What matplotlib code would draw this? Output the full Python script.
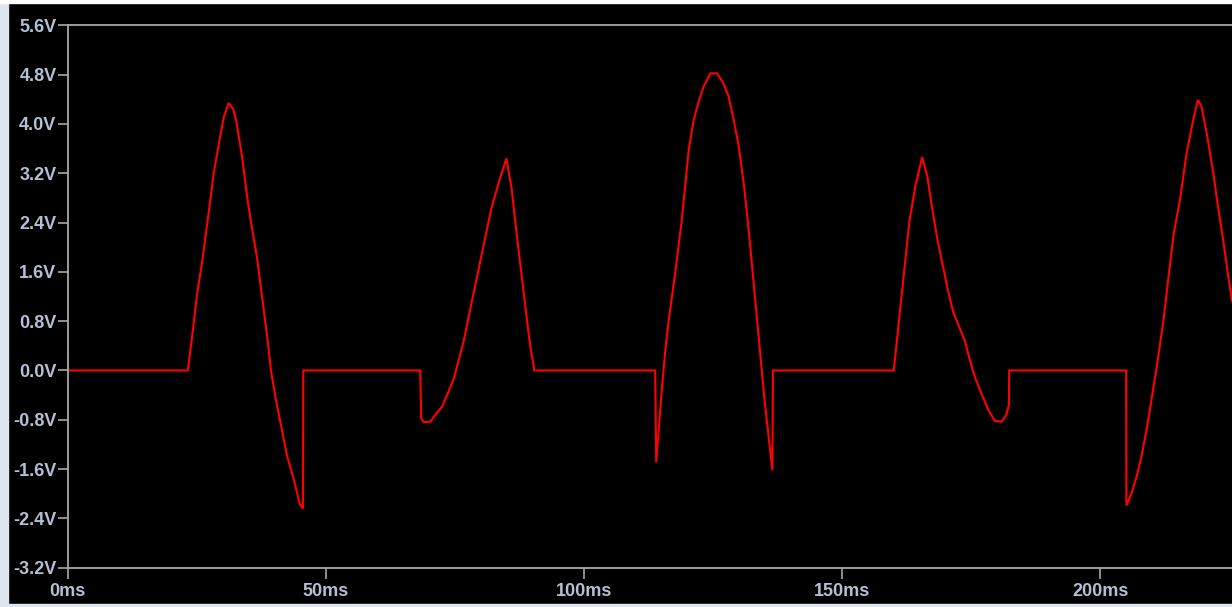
import matplotlib.pyplot as plt
import matplotlib.patches as patches

plt.rcParams['axes.unicode_minus'] = False
plt.rcParams['font.family'] = ['Liberation Sans', 'DejaVu Sans']

# waveform (time in ms, voltage in V)
time_ms = [0.0, 0.05, 23.3, 24.1, 25.1, 26.1, 27.4, 28.3, 29.3, 30.3, 31.2, 32.1, 32.7,
           33.8, 34.8, 35.7, 36.7, 37.7, 38.7, 39.4, 40.3, 41.2, 42.5, 43.8, 45.0, 45.6, 45.65,
           68.3, 68.5, 69.0, 70.3, 71.2, 72.5, 73.8, 74.8, 75.7, 76.7, 77.5, 79.0, 80.5,
           82.0, 83.5, 85.0, 86.0, 87.0, 88.0, 89.0, 89.6, 90.4,
           113.8, 114.0, 114.5, 115.1, 115.8, 116.4, 117.7, 118.9, 120.3, 121.2, 122.2,
           123.2, 124.5, 125.8, 127.0, 128.0, 129.0, 129.9, 131.0, 132.0, 133.0, 134.0,
           135.0, 136.5, 136.6,
           160.0, 161.0, 162.0, 163.0, 164.2, 165.5, 166.5, 167.5, 168.5, 169.5, 170.5,
           171.5, 172.7, 173.8, 174.8, 175.8, 177.1, 178.3, 179.6, 180.9, 181.8, 182.3, 182.35,
           205.0, 205.05, 206.1, 207.1, 208.0, 209.0, 209.6, 211.0, 212.2, 213.2, 214.2,
           215.5, 216.7, 218.0, 218.9, 219.6, 220.6, 221.9, 222.8, 223.8, 224.8, 225.5]
volts = [0.47, 0.0, 0.0, 0.53, 1.24, 1.78, 2.6, 3.19, 3.68, 4.12, 4.34, 4.24, 4.04,
         3.47, 2.81, 2.32, 1.83, 1.18, 0.53, 0.0, -0.45, -0.83, -1.38, -1.76, -2.17, -2.24, 0.0,
         0.0, -0.78, -0.84, -0.83, -0.72, -0.59, -0.34, -0.13, 0.15, 0.47, 0.8, 1.4, 2.0,
         2.6, 3.05, 3.44, 2.95, 2.2, 1.5, 0.8, 0.4, 0.0,
         0.0, -1.49, -0.94, -0.29, 0.36, 0.8, 1.6, 2.4, 3.58, 4.04, 4.36,
         4.61, 4.82, 4.82, 4.66, 4.45, 4.07, 3.68, 3.0, 2.2, 1.3, 0.4,
         -0.5, -1.62, 0.0,
         0.0, 0.8, 1.6, 2.4, 3.0, 3.46, 3.15, 2.6, 2.1, 1.7, 1.3,
         0.95, 0.7, 0.47, 0.15, -0.13, -0.4, -0.64, -0.82, -0.83, -0.72, -0.56, 0.0,
         0.0, -2.19, -1.98, -1.70, -1.38, -0.94, -0.64, 0.1, 0.8, 1.51, 2.21,
         2.81, 3.52, 4.07, 4.39, 4.28, 3.85, 3.19, 2.65, 2.11, 1.51, 1.13]

y_ticks = [-3.2, -2.4, -1.6, -0.8, 0.0, 0.8, 1.6, 2.4, 3.2, 4.0, 4.8, 5.6]
x_ticks = [0, 50, 100, 150, 200]

fig = plt.figure(figsize=(12.32, 6.07), dpi=100, facecolor='black')
# light window borders
fig.patches.append(patches.Rectangle((0, 0), 8 / 1232, 1, transform=fig.transFigure,
                                     color='#dfe6ef', zorder=0))
fig.patches.append(patches.Rectangle((0, 0), 1, 3 / 607, transform=fig.transFigure,
                                     color='#dfe6ef', zorder=0))
fig.patches.append(patches.Rectangle((0, 1 - 3 / 607), 1, 3 / 607, transform=fig.transFigure,
                                     color='white', zorder=0))

ax = fig.add_axes([67.5 / 1232, 39.3 / 607, 1 - 67.5 / 1232, 542.4 / 607])
ax.set_facecolor('black')
ax.plot(time_ms, volts, color='#ff0000', lw=1.5, solid_joinstyle='miter')

ax.set_xlim(0, 225.5)
ax.set_ylim(-3.2, 5.6)
ax.set_yticks(y_ticks)
ax.set_yticklabels(['%.1fV' % v for v in y_ticks])
ax.set_xticks(x_ticks)
ax.set_xticklabels(['%dms' % t for t in x_ticks])

grey = '#a8a8a8'
for side in ['left', 'bottom', 'top']:
    ax.spines[side].set_color(grey)
    ax.spines[side].set_linewidth(1.3)
ax.spines['right'].set_visible(False)
ax.tick_params(axis='y', colors=grey, length=7, width=1.2, pad=1,
               labelcolor='#b4c0d2', labelsize=13)
ax.tick_params(axis='x', colors=grey, length=8, width=1.2, pad=3,
               labelcolor='#b4c0d2', labelsize=13)
for lbl in ax.get_xticklabels() + ax.get_yticklabels():
    lbl.set_fontweight('bold')

fig.savefig('out.png', dpi=100, facecolor='black')
